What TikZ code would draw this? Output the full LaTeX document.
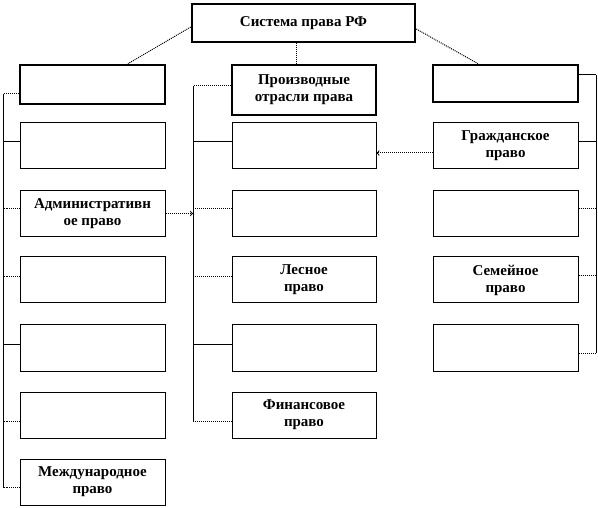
\documentclass[tikz,border=0pt]{standalone}
\usepackage{fontspec}
\setmainfont{Liberation Serif}
\begin{document}
\begin{tikzpicture}[x=1pt,y=-1pt,
    font=\fontsize{15}{17}\selectfont\bfseries,
    casella/.style={draw,line width=1pt,inner sep=0pt,minimum width=145pt,minimum height=46pt,align=center},
    testata/.style={casella,line width=2.6pt},
    ramo/.style={line width=1pt},
    punti/.style={line width=1pt,densely dotted},
    freccia/.style={punti,->}]

  \useasboundingbox (0,0) rectangle (598,508);

  % vertice e intestazioni
  \node[testata,minimum width=223pt,minimum height=38pt] (rf) at (303.5,23) {Система права РФ};
  \node[testata,minimum height=39pt] (lh) at (92.5,84.5) {};
  \node[testata,minimum width=144pt,minimum height=50pt] (mh) at (304,90) {Производные\\отрасли права};
  \node[testata,minimum height=37pt] (rh) at (505.5,83.5) {};

  % colonna sinistra
  \node[casella] (l1) at (92.5,146) {};
  \node[casella] (l2) at (92.5,213.5) {Административн\\ое право};
  \node[casella] (l3) at (92.5,280) {};
  \node[casella] (l4) at (92.5,348) {};
  \node[casella] (l5) at (92.5,415) {};
  \node[casella] (l6) at (92.5,482) {Международное\\право};

  % colonna centrale
  \node[casella,minimum width=144pt] (m1) at (304,146) {};
  \node[casella,minimum width=144pt] (m2) at (304,213.5) {};
  \node[casella,minimum width=144pt] (m3) at (304,280) {Лесное\\право};
  \node[casella,minimum width=144pt] (m4) at (304,348) {};
  \node[casella,minimum width=144pt] (m5) at (304,415) {Финансовое\\право};

  % colonna destra
  \node[casella] (r1) at (505.5,146) {Гражданское\\право};
  \node[casella] (r2) at (505.5,213.5) {};
  \node[casella] (r3) at (505.5,280) {Семейное\\право};
  \node[casella] (r4) at (505.5,348) {};

  % punti delle tre linee verticali
  \coordinate (lt) at (3,94);
  \coordinate (lb) at (3,487);
  \coordinate (mt) at (193,86);
  \coordinate (mb) at (193,421);
  \coordinate (rt) at (596,75);
  \coordinate (rb) at (596,353);

  % dal vertice alle intestazioni
  \draw[punti] ([yshift=-4pt]rf.west) -- ([xshift=35.5pt]lh.north);
  \draw[punti] ([yshift=-6pt]rf.east) -- ([xshift=-27.5pt]rh.north);
  \draw[punti] ([xshift=-7.5pt]rf.south) -- ([xshift=-8pt]mh.north);

  % sinistra
  \draw[punti] ([yshift=-9.5pt]lh.west) -- (lt);
  \draw[ramo]  (lt) -- (lb);
  \draw[ramo]  ([yshift=4pt]l1.west) -- ([yshift=4pt]l1.west -| lt);
  \draw[punti] ([yshift=4.5pt]l2.west) -- ([yshift=4.5pt]l2.west -| lt);
  \draw[punti] ([yshift=3pt]l3.west) -- ([yshift=3pt]l3.west -| lt);
  \draw[ramo]  ([yshift=4pt]l4.west) -- ([yshift=4pt]l4.west -| lt);
  \draw[punti] ([yshift=-6pt]l5.west) -- ([yshift=-6pt]l5.west -| lt);
  \draw[punti] ([yshift=-5pt]l6.west) -- (lb);

  % centro
  \draw[punti] ([yshift=4pt]mh.west) -- (mt);
  \draw[ramo]  (mt) -- (mb);
  \draw[ramo]  ([yshift=4pt]m1.west) -- ([yshift=4pt]m1.west -| mt);
  \draw[punti] ([yshift=4.5pt]m2.west) -- ([yshift=4.5pt]m2.west -| mt);
  \draw[punti] ([yshift=3pt]m3.west) -- ([yshift=3pt]m3.west -| mt);
  \draw[ramo]  ([yshift=4pt]m4.west) -- ([yshift=4pt]m4.west -| mt);
  \draw[punti] ([yshift=-6pt]m5.west) -- (mb);

  % destra
  \draw[ramo]  ([yshift=8.5pt]rh.east) -- (rt);
  \draw[ramo]  (rt) -- (rb);
  \draw[ramo]  ([yshift=4pt]r1.east) -- ([yshift=4pt]r1.east -| rt);
  \draw[punti] ([yshift=4.5pt]r2.east) -- ([yshift=4.5pt]r2.east -| rt);
  \draw[punti] ([yshift=4pt]r3.east) -- ([yshift=4pt]r3.east -| rt);
  \draw[punti] ([yshift=-5pt]r4.east) -- (rb);

  % frecce tra le colonne
  \draw[freccia] (l2.east) -- (l2.east -| mt);
  \draw[freccia] ([yshift=-7pt]r1.west) -- ([yshift=-7pt]r1.west -| m1.east);

\end{tikzpicture}
\end{document}
